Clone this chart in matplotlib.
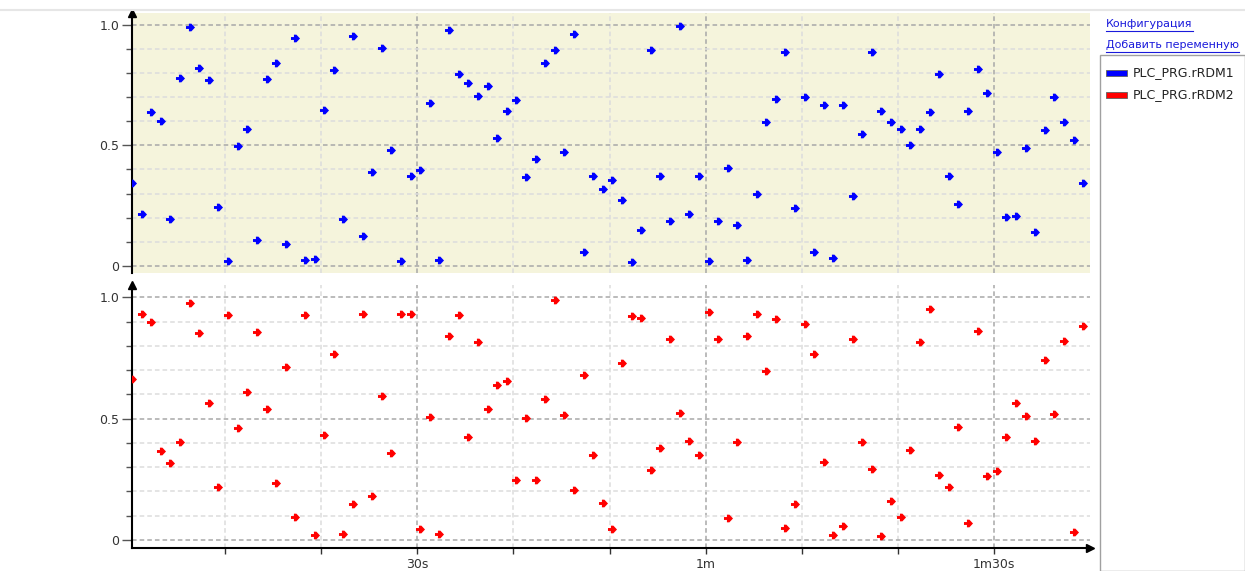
import numpy as np
import matplotlib
matplotlib.use("Agg")
import matplotlib.pyplot as plt
from matplotlib.path import Path
from matplotlib.lines import Line2D
from matplotlib.patches import Rectangle
from matplotlib.ticker import MultipleLocator, FixedLocator, FixedFormatter

# samples, one per second
rdm1 = [0.343, 0.214, 0.637, 0.602, 0.193, 0.780, 0.990, 0.820, 0.771, 0.243,
        0.019, 0.497, 0.568, 0.109, 0.776, 0.840, 0.090, 0.945, 0.026, 0.030,
        0.646, 0.811, 0.193, 0.954, 0.124, 0.388, 0.905, 0.482, 0.021, 0.373,
        0.398, 0.677, 0.026, 0.979, 0.796, 0.756, 0.706, 0.746, 0.532, 0.642,
        0.686, 0.367, 0.442, 0.840, 0.895, 0.472, 0.960, 0.059, 0.373, 0.318,
        0.358, 0.273, 0.015, 0.149, 0.895, 0.373, 0.188, 0.994, 0.214, 0.373,
        0.021, 0.188, 0.407, 0.169, 0.026, 0.298, 0.597, 0.691, 0.885, 0.239,
        0.700, 0.059, 0.666, 0.035, 0.666, 0.289, 0.547, 0.885, 0.642, 0.597,
        0.568, 0.503, 0.568, 0.637, 0.796, 0.373, 0.258, 0.642, 0.815, 0.717,
        0.472, 0.204, 0.209, 0.488, 0.140, 0.562, 0.700, 0.597, 0.522, 0.343]

rdm2 = [0.664, 0.931, 0.897, 0.367, 0.318, 0.402, 0.977, 0.851, 0.565, 0.219,
        0.927, 0.461, 0.609, 0.857, 0.541, 0.234, 0.714, 0.095, 0.927, 0.021,
        0.431, 0.768, 0.025, 0.149, 0.931, 0.179, 0.594, 0.356, 0.931, 0.931,
        0.045, 0.505, 0.025, 0.842, 0.926, 0.425, 0.817, 0.539, 0.640, 0.655,
        0.248, 0.501, 0.248, 0.579, 0.990, 0.514, 0.204, 0.678, 0.351, 0.153,
        0.045, 0.728, 0.922, 0.916, 0.287, 0.377, 0.827, 0.525, 0.406, 0.351,
        0.941, 0.827, 0.089, 0.402, 0.842, 0.931, 0.697, 0.911, 0.050, 0.149,
        0.891, 0.768, 0.322, 0.021, 0.055, 0.827, 0.402, 0.293, 0.015, 0.158,
        0.095, 0.371, 0.817, 0.950, 0.267, 0.219, 0.465, 0.070, 0.861, 0.263,
        0.282, 0.425, 0.564, 0.510, 0.406, 0.743, 0.520, 0.821, 0.034, 0.882]

t_start = 0.3
times = np.arange(len(rdm1)) + t_start

x_major = [30, 60, 90]
x_labels = ["30s", "1m", "1m30s"]
y_major = [0, 0.5, 1.0]
y_labels = ["0", "0.5", "1.0"]
names = ["PLC_PRG.rRDM1", "PLC_PRG.rRDM2"]
colors = ["#0000ff", "#ff0000"]
links = ["Конфигурация", "Добавить переменную"]

W, H = 1245, 571
fig = plt.figure(figsize=(W / 100, H / 100), dpi=100)
fig.patch.set_facecolor("white")


def px_axes(left, top, right, bottom):
    return fig.add_axes([left / W, 1 - bottom / H, (right - left) / W, (bottom - top) / H])


# fat plus-with-arrow-tip marker, like the trend tool draws
arrow = Path([(-1, -0.32), (-0.35, -0.32), (-0.35, -0.85), (0.2, -0.85), (1, 0),
              (0.2, 0.85), (-0.35, 0.85), (-0.35, 0.32), (-1, 0.32), (-1, -0.32)],
             [Path.MOVETO] + [Path.LINETO] * 8 + [Path.CLOSEPOLY])

# thin grey line across the very top
fig.add_artist(Line2D([0, 1], [1 - 10 / H, 1 - 10 / H], color="#e6e6e6", lw=1.5))

ax1 = px_axes(132, 13, 1090, 273)
ax2 = px_axes(132, 285, 1090, 548)
ax1.set_facecolor("#f5f4dc")
ax2.set_facecolor("white")

for ax, vals, c, ylim in [(ax1, rdm1, colors[0], (-0.029, 1.048)),
                          (ax2, rdm2, colors[1], (-0.034, 1.051))]:
    ax.plot(times, vals, linestyle="none", marker=arrow, markersize=6.5,
            color=c, markeredgewidth=0, clip_on=True, zorder=3)
    ax.set_xlim(t_start, 100.0)
    ax.set_ylim(*ylim)
    ax.xaxis.set_major_locator(FixedLocator(x_major))
    ax.xaxis.set_minor_locator(FixedLocator([10, 20, 40, 50, 70, 80]))
    ax.yaxis.set_major_locator(FixedLocator(y_major))
    ax.yaxis.set_major_formatter(FixedFormatter(y_labels))
    ax.yaxis.set_minor_locator(MultipleLocator(0.1))
    ax.grid(which="major", color="#a8a8a8", linestyle=(0, (3, 2)), linewidth=1.1)
    ax.grid(which="minor", color="#dcdcdc", linestyle=(0, (3, 2)), linewidth=1.1)
    ax.set_axisbelow(True)
    for s in ["top", "right", "bottom"]:
        ax.spines[s].set_visible(False)
    ax.spines["left"].set_color("black")
    ax.spines["left"].set_linewidth(1.5)
    ax.tick_params(axis="y", which="major", length=7.5, width=1, color="#555555",
                   labelsize=9, labelcolor="#333333", pad=1.5)
    ax.tick_params(axis="y", which="minor", length=4.5, width=1, color="#555555")
    # arrowhead on the y axis
    ax.plot([0], [1], transform=ax.transAxes, marker="^", color="black",
            markersize=6, clip_on=False, zorder=5)

ax1.tick_params(axis="x", which="both", length=0, labelbottom=False)

ax2.spines["bottom"].set_visible(True)
ax2.spines["bottom"].set_color("black")
ax2.spines["bottom"].set_linewidth(1.5)
ax2.xaxis.set_major_formatter(FixedFormatter(x_labels))
ax2.tick_params(axis="x", which="both", length=4.5, width=1, color="#333333",
                labelsize=9, labelcolor="#333333", pad=3)
ax2.plot([1], [0], transform=ax2.transAxes, marker=">", color="black",
         markersize=6, clip_on=False, zorder=5)

# legend panel on the right
fig.add_artist(Rectangle((1100 / W, 0), (W - 1100) / W, 1 - 55 / H,
                         transform=fig.transFigure, facecolor="white",
                         edgecolor="#a0a0a0", linewidth=1))
for i, (name, c) in enumerate(zip(names, colors)):
    yc = 73 + i * 22
    fig.add_artist(Rectangle((1106 / W, 1 - (yc + 3) / H), 21 / W, 6 / H,
                             transform=fig.transFigure, facecolor=c,
                             edgecolor="#606060", linewidth=0.6))
    fig.text(1133 / W, 1 - yc / H, name, fontsize=9, color="#222222",
             va="center", ha="left")

renderer = fig.canvas.get_renderer()
for i, txt in enumerate(links):
    yc = 24 + i * 21
    t = fig.text(1106 / W, 1 - yc / H, txt, fontsize=8, color="#1a1adb",
                 va="center", ha="left")
    bb = t.get_window_extent(renderer=renderer)
    yl = 1 - (yc + 7) / H
    fig.add_artist(Line2D([bb.x0 / W, bb.x1 / W], [yl, yl], color="#1a1adb", lw=0.8))

fig.savefig("out.png", dpi=100)
